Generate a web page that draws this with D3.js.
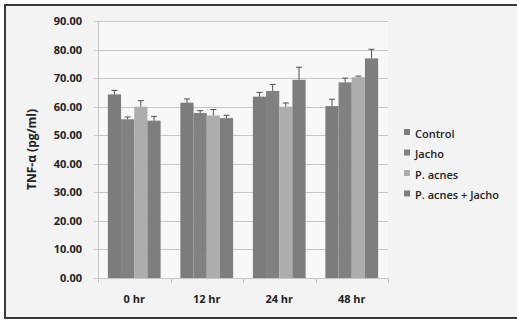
<!DOCTYPE html>
<html>
<head>
<meta charset="utf-8">
<script src="https://cdn.jsdelivr.net/npm/d3@7"></script>
<style>
  body { margin: 0; background: #fff; }
  text { font-family: "Open Sans", "DejaVu Sans", sans-serif; }
</style>
</head>
<body>
<div id="chart"></div>
<script>
// data
const categories = ["0 hr", "12 hr", "24 hr", "48 hr"];
const seriesNames = ["Control", "Jacho", "P. acnes", "P. acnes + Jacho"];
const seriesColors = ["#7c7c7c", "#818181", "#adadad", "#7e7e7e"];
const control = [64.3, 61.4, 63.5, 60.2];
const jacho = [55.6, 57.8, 65.5, 68.5];
const pacnes = [60.0, 56.9, 60.0, 70.3];
const pacnesJacho = [55.1, 56.0, 69.4, 76.9];
const controlErr = [1.4, 1.3, 1.5, 2.4];
const jachoErr = [0.8, 0.8, 2.3, 1.5];
const pacnesErr = [2.1, 2.1, 1.3, 0.4];
const pacnesJachoErr = [1.5, 1.0, 4.4, 3.2];
const yTicks = [0, 10, 20, 30, 40, 50, 60, 70, 80, 90];

const values = [control, jacho, pacnes, pacnesJacho];
const errors = [controlErr, jachoErr, pacnesErr, pacnesJachoErr];

const W = 517, H = 322;
const margin = {top: 21, left: 98, right: 129, bottom: 44};
const width = W - margin.left - margin.right,
      height = H - margin.top - margin.bottom;

const svg = d3.select("#chart").append("svg")
  .attr("width", W).attr("height", H);

// chart area background + border
svg.append("rect").attr("x", 0).attr("y", 0).attr("width", W).attr("height", H).attr("fill", "#ffffff");
svg.append("rect")
  .attr("x", 5).attr("y", 5).attr("width", W + 10).attr("height", 313)
  .attr("fill", "#f3f3f3").attr("stroke", "#3a3a3a").attr("stroke-width", 2);

const g = svg.append("g").attr("transform", `translate(${margin.left},${margin.top})`);

g.append("rect").attr("width", width).attr("height", height).attr("fill", "#f8f8f8");

const x = d3.scaleBand().domain(categories).range([0, width]);
// Excel style: gap width 150% of a bar
const barW = x.bandwidth() / 5.5;
const gap = barW * 1.5;
const y = d3.scaleLinear().domain([0, 90]).range([height, 0]);

// gridlines
g.append("g").selectAll("line").data(yTicks).join("line")
  .attr("x1", -4).attr("x2", width)
  .attr("y1", d => Math.round(y(d)) + 0.5).attr("y2", d => Math.round(y(d)) + 0.5)
  .attr("stroke", "#c6c6c6").attr("stroke-width", 1);

// y axis
const yAxis = g.append("g")
  .call(d3.axisLeft(y).tickValues(yTicks).tickSize(0).tickPadding(16).tickFormat(d3.format(".2f")));
yAxis.select(".domain").attr("stroke", "#c6c6c6");
yAxis.selectAll("text").attr("font-size", 11).attr("font-weight", "bold").attr("fill", "#222");

// x axis
const xAxis = g.append("g").attr("transform", `translate(0,${height})`)
  .call(d3.axisBottom(x).tickSize(0).tickPadding(17));
xAxis.select(".domain").attr("stroke", "#c6c6c6");
xAxis.selectAll("text").attr("font-size", 11).attr("font-weight", "bold").attr("fill", "#222");
g.append("g").selectAll("line").data(d3.range(categories.length + 1)).join("line")
  .attr("x1", d => Math.round(d * x.step()) + 0.5).attr("x2", d => Math.round(d * x.step()) + 0.5)
  .attr("y1", height).attr("y2", height + 5)
  .attr("stroke", "#c6c6c6");

// bars
seriesNames.forEach((name, s) => {
  const sg = g.append("g");
  sg.selectAll("rect").data(categories).join("rect")
    .attr("x", (c) => x(c) + gap / 2 + s * barW)
    .attr("y", (c, i) => y(values[s][i]))
    .attr("width", barW)
    .attr("height", (c, i) => height - y(values[s][i]))
    .attr("fill", seriesColors[s]);
  // error bars (plus only)
  sg.selectAll("line.err").data(categories).join("line").attr("class", "err")
    .attr("x1", c => x(c) + gap / 2 + s * barW + barW / 2)
    .attr("x2", c => x(c) + gap / 2 + s * barW + barW / 2)
    .attr("y1", (c, i) => y(values[s][i]))
    .attr("y2", (c, i) => y(values[s][i] + errors[s][i]))
    .attr("stroke", "#505050").attr("stroke-width", 1);
  sg.selectAll("line.cap").data(categories).join("line").attr("class", "cap")
    .attr("x1", c => x(c) + gap / 2 + s * barW + barW / 2 - 3)
    .attr("x2", c => x(c) + gap / 2 + s * barW + barW / 2 + 3)
    .attr("y1", (c, i) => y(values[s][i] + errors[s][i]))
    .attr("y2", (c, i) => y(values[s][i] + errors[s][i]))
    .attr("stroke", "#505050").attr("stroke-width", 1);
});

// y title
svg.append("text")
  .attr("transform", `translate(36,${margin.top + height / 2}) rotate(-90)`)
  .attr("text-anchor", "middle")
  .attr("font-size", 12).attr("font-weight", "bold").attr("fill", "#222")
  .text("TNF-α (pg/ml)");

// legend
const legend = svg.append("g").attr("transform", "translate(404,134)");
seriesNames.forEach((name, i) => {
  const row = legend.append("g").attr("transform", `translate(0,${i * 20.5})`);
  row.append("rect").attr("x", 0).attr("y", -5).attr("width", 6).attr("height", 6)
    .attr("fill", seriesColors[i]);
  row.append("text").attr("x", 11).attr("y", 0).attr("dy", "0.32em")
    .attr("font-size", 11).attr("font-weight", 600).attr("fill", "#222")
    .text(name);
});
</script>
</body>
</html>
